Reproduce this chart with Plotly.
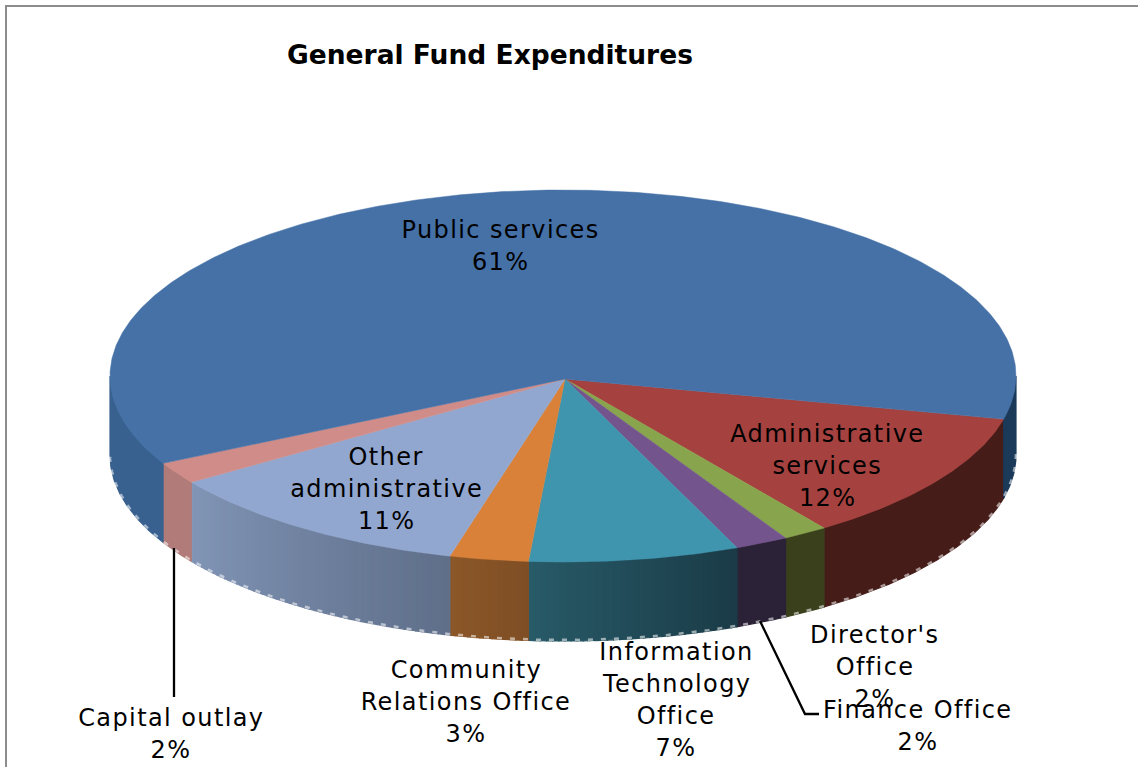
import numpy as np
import plotly.graph_objects as go

# ---- data (clockwise from the right-hand edge of the public services slice) ----
categories = ["Administrative services", "Director's Office", "Finance Office",
              "Information Technology Office", "Community Relations Office",
              "Other administrative", "Capital outlay", "Public services"]
values = [11.5, 1.6, 1.9, 7.49, 2.8, 11.3, 1.9, 61.49]

# ---- styles (wall_left / wall_right = colour at the left / right end of each side wall) ----
top_colors = ["#A5423F", "#88A44C", "#73548C", "#3F94AE", "#D98138", "#92A7CF", "#CF8C88", "#4571A7"]
wall_left = ["#451C18", "#3A401C", "#2B2238", "#285A67", "#8B5729", "#8195B6", "#B07B78", "#38618F"]
wall_right = ["#451C18", "#3A401C", "#2B2238", "#1A3B47", "#7F4E24", "#5F6F8A", "#B07B78", "#38618F"]
public_right_wall = "#1B3A5A"

# ---- layout geometry in pixels ----
W, H = 1138, 767
CX, CY, RX, RY, DEPTH = 563, 376, 453, 186, 79
APEX = (565, 379)
START = 13.4
FS = 24
LINE = 32
label_layout = {
    "Public services": (500, 230, ["Public services"]),
    "Administrative services": (827, 434, ["Administrative", "services"]),
    "Other administrative": (386, 457, ["Other", "administrative"]),
    "Community Relations Office": (466, 670, ["Community", "Relations Office"]),
    "Information Technology Office": (676, 652, ["Information", "Technology", "Office"]),
    "Director's Office": (875, 635, ["Director's", "Office"]),
    "Finance Office": (918, 710, ["Finance Office"]),
    "Capital outlay": (171, 718, ["Capital outlay"]),
}


def rim(deg, drop=0.0):
    r = np.radians(deg)
    return CX + RX * np.cos(r), CY + RY * np.sin(r) + drop


def mix(a, b, f):
    ca = [int(a[i:i + 2], 16) for i in (1, 3, 5)]
    cb = [int(b[i:i + 2], 16) for i in (1, 3, 5)]
    return "rgb(%d,%d,%d)" % tuple(round(x + (y - x) * f) for x, y in zip(ca, cb))


sweeps = np.array(values) / sum(values) * 360
edges = START + np.concatenate([[0], np.cumsum(sweeps)])

fig = go.Figure()


def wall_strip(t0, t1, color):
    ts = np.linspace(t0, t1, max(5, int(abs(t1 - t0) * 2)))
    x0, y0 = rim(ts)
    x1, y1 = rim(ts[::-1], DEPTH)
    fig.add_trace(go.Scatter(x=np.r_[x0, x1, x0[0]], y=np.r_[y0, y1, y0[0]], mode="lines", fill="toself",
                             fillcolor=color, line=dict(color=color, width=1.2),
                             hoverinfo="skip", showlegend=False))


# side walls
for i, name in enumerate(categories):
    a, b = edges[i], edges[i + 1]
    if name == "Public services":
        wall_strip(a, 180, wall_left[i])
        wall_strip(0, b - 360, public_right_wall)
        continue
    # the angle grows towards the left along the front of the pie
    n = 1 if wall_left[i] == wall_right[i] else max(1, int((b - a) / 0.75))
    steps = np.linspace(a, b, n + 1)
    for k in range(n):
        wall_strip(steps[k], steps[k + 1], mix(wall_right[i], wall_left[i], (k + 0.5) / n))

# pale jagged lower rim
ts = np.linspace(0, 180, 400)
rx, ry = rim(ts, DEPTH - 1)
fig.add_trace(go.Scatter(x=rx, y=ry, mode="lines", hoverinfo="skip", showlegend=False,
                         line=dict(color="rgba(255,255,255,0.55)", width=2.5, dash="5px,8px")))

# top faces
for i, name in enumerate(categories):
    ts = np.linspace(edges[i], edges[i + 1], max(3, int(sweeps[i] * 2)))
    x, y = rim(ts)
    fig.add_trace(go.Scatter(x=np.r_[APEX[0], x, APEX[0]], y=np.r_[APEX[1], y, APEX[1]], mode="lines",
                             fill="toself", fillcolor=top_colors[i], name=name,
                             line=dict(color=top_colors[i], width=0.5), showlegend=False,
                             text=f"{name}: {round(values[i])}%", hoverinfo="text"))

# leader lines
for lx, ly in [([174, 174], [548, 697]), ([760, 805, 819], [621, 714, 714])]:
    fig.add_trace(go.Scatter(x=lx, y=ly, mode="lines", line=dict(color="black", width=2.3),
                             hoverinfo="skip", showlegend=False))

# frame (left and top only)
fig.add_trace(go.Scatter(x=[6, 6, W], y=[H, 6, 6], mode="lines", line=dict(color="#8c8c8c", width=2),
                         hoverinfo="skip", showlegend=False))

# labels
ann = []
for name, v in zip(categories, values):
    x, y, lines = label_layout[name]
    for j, t in enumerate(lines + [f"{round(v)}%"]):
        ann.append(dict(x=x, y=y + j * LINE, text=t, showarrow=False, xanchor="center", yanchor="middle",
                        font=dict(family="DejaVu Sans", size=FS, color="black")))
ann.append(dict(x=490, y=54, text="<b>General Fund Expenditures</b>", showarrow=False,
                xanchor="center", yanchor="middle",
                font=dict(family="DejaVu Sans", size=26.5, color="black")))

fig.update_layout(width=W, height=H, margin=dict(l=0, r=0, t=0, b=0), paper_bgcolor="white",
                  plot_bgcolor="white", annotations=ann,
                  xaxis=dict(range=[0, W], visible=False, fixedrange=True),
                  yaxis=dict(range=[H, 0], visible=False, fixedrange=True))

spacing_js = """
document.body.style.margin='0';document.body.style.overflow='hidden';
function spaceLabels(){
  document.querySelectorAll('.annotation-text').forEach(function(t){
    if(t.textContent.indexOf('General')!==0){t.style.letterSpacing='1.4px';}
  });
}
spaceLabels();setTimeout(spaceLabels,0);setTimeout(spaceLabels,200);
"""
fig.write_html("out.html", config={"displayModeBar": False}, post_script=spacing_js)
